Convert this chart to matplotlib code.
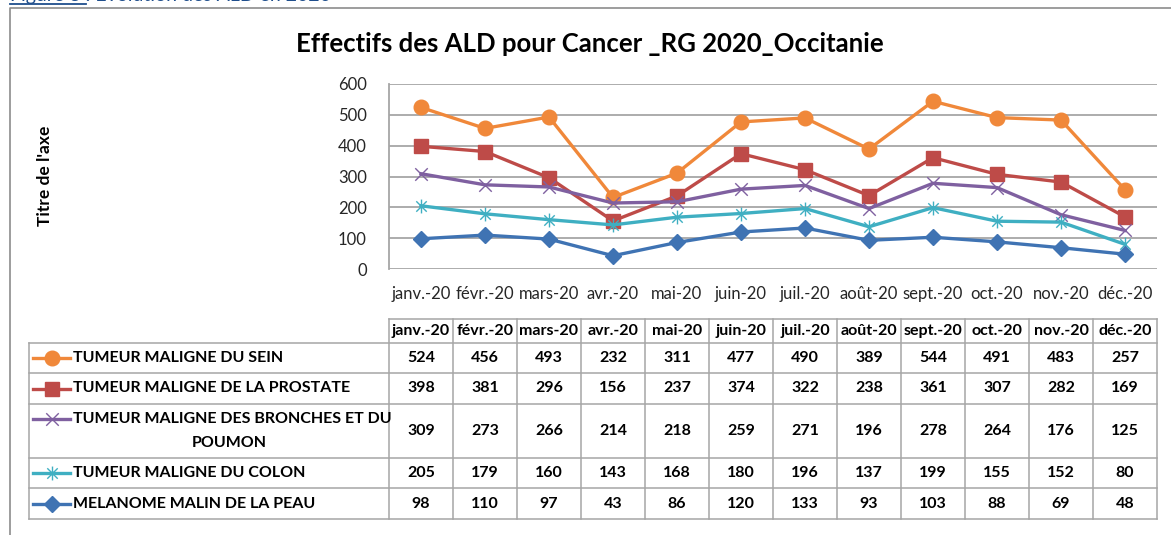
import matplotlib
matplotlib.use("Agg")
import matplotlib.pyplot as plt
from matplotlib.path import Path
from matplotlib.lines import Line2D

plt.rcParams['font.family'] = ['Lato', 'DejaVu Sans']

months = ["janv.-20", "févr.-20", "mars-20", "avr.-20", "mai-20", "juin-20",
          "juil.-20", "août-20", "sept.-20", "oct.-20", "nov.-20", "déc.-20"]
series_names = ["TUMEUR MALIGNE DU SEIN",
                "TUMEUR MALIGNE DE LA PROSTATE",
                "TUMEUR MALIGNE DES BRONCHES ET DU\nPOUMON",
                "TUMEUR MALIGNE DU COLON",
                "MELANOME MALIN DE LA PEAU"]
sein = [524, 456, 493, 232, 311, 477, 490, 389, 544, 491, 483, 257]
prostate = [398, 381, 296, 156, 237, 374, 322, 238, 361, 307, 282, 169]
bronches = [309, 273, 266, 214, 218, 259, 271, 196, 278, 264, 176, 125]
colon = [205, 179, 160, 143, 168, 180, 196, 137, 199, 155, 152, 80]
melanome = [98, 110, 97, 43, 86, 120, 133, 93, 103, 88, 69, 48]
yticks = [0, 100, 200, 300, 400, 500, 600]

title = "Effectifs des ALD pour Cancer _RG 2020_Occitanie"
ylabel = "Titre de l'axe"
caption = "Figure 8 : Evolution des ALD en 2020"

star = Path([(0, -1), (0, 1), (-0.75, -0.75), (0.75, 0.75), (-0.75, 0.75), (0.75, -0.75)],
            [Path.MOVETO, Path.LINETO, Path.MOVETO, Path.LINETO, Path.MOVETO, Path.LINETO])
xmark = Path([(-1, -1), (1, 1), (-1, 1), (1, -1)],
             [Path.MOVETO, Path.LINETO, Path.MOVETO, Path.LINETO])

styles = [
    dict(color="#F0883A", marker="o", ms=10.5, mfc="#F0883A", mec="#F0883A"),
    dict(color="#BE4B48", marker="s", ms=9.5, mfc="#BE4B48", mec="#BE4B48"),
    dict(color="#7F60A0", marker=xmark, ms=9, mfc="none", mec="#7F60A0", mew=1.0),
    dict(color="#3FAFC2", marker=star, ms=10, mfc="none", mec="#3FAFC2", mew=1.0),
    dict(color="#3F73B3", marker="D", ms=8, mfc="#3F73B3", mec="#3F73B3"),
]
data = [sein, prostate, bronches, colon, melanome]

W, H = 1171, 535
fig = plt.figure(figsize=(W / 100, H / 100), dpi=100)
fig.patch.set_facecolor("white")

def fx(px):
    return px / W

def fy(py):
    return 1 - py / H

# main chart axes (pixel bounds)
L, R, T, B = 389, 1157, 84, 269
ax = fig.add_axes([fx(L), fy(B), fx(R) - fx(L), fy(T) - fy(B)])
x = list(range(len(months)))
for vals, st in zip(data, styles):
    ax.plot(x, vals, lw=2.4, solid_joinstyle="round", zorder=3, **st)
ax.set_xlim(-0.5, len(months) - 0.5)
ax.set_ylim(0, 600)
ax.set_yticks(yticks)
ax.set_yticklabels([str(v) for v in yticks], fontsize=12, color="#262626")
ax.set_xticks(x)
ax.set_xticklabels(months, fontsize=12, color="#262626")
ax.tick_params(axis="both", length=0)
ax.tick_params(axis="y", pad=16)
ax.tick_params(axis="x", pad=12)
ax.grid(axis="y", color="#A6A6A6", lw=1.3)
ax.set_axisbelow(True)
for s in ["top", "right", "bottom"]:
    ax.spines[s].set_visible(False)
ax.spines["left"].set_color("#A6A6A6")
ax.spines["left"].set_linewidth(1.3)

# overlay in pixel coordinates
ov = fig.add_axes([0, 0, 1, 1], zorder=5)
ov.set_xlim(0, W)
ov.set_ylim(H, 0)
ov.axis("off")
ov.patch.set_alpha(0)

# frame
ov.plot([9.5, 9.5, W], [H, 7.5, 7.5], color="#8C8C8C", lw=1.2, solid_capstyle="butt")

# caption (clipped at top, as in the reference)
ov.text(10, 1.0, caption, fontsize=14, color="#1F4E8C", va="baseline", ha="left")
ov.plot([10, 86], [4.0, 4.0], color="#1F4E8C", lw=1.3)

# title
ov.text(590, 44, title, fontsize=18.5, fontweight="bold", ha="center", va="center", color="black")
# y label
ov.text(45, 176, ylabel, fontsize=12.5, fontweight="bold", rotation=90, ha="center", va="center")

# table
col_edges = [L + i * 64 for i in range(len(months) + 1)]
row_edges = [343, 373, 404, 458, 488, 519]
hdr_top = 319
grid_c = "#A6A6A6"
lw = 1.1
ov.plot([L, R], [hdr_top, hdr_top], color=grid_c, lw=lw)
for ce in col_edges:
    ov.plot([ce, ce], [hdr_top, row_edges[-1]], color=grid_c, lw=lw)
for re in row_edges:
    ov.plot([29, R], [re, re], color=grid_c, lw=lw)
ov.plot([29, 29], [row_edges[0], row_edges[-1]], color=grid_c, lw=lw)

for i, m in enumerate(months):
    cx = (col_edges[i] + col_edges[i + 1]) / 2
    ov.text(cx, (hdr_top + row_edges[0]) / 2, m, fontsize=11.5, fontweight="bold",
            ha="center", va="center")

for r, (name, vals, st) in enumerate(zip(series_names, data, styles)):
    cy = (row_edges[r] + row_edges[r + 1]) / 2
    for i, v in enumerate(vals):
        cx = (col_edges[i] + col_edges[i + 1]) / 2
        ov.text(cx, cy, str(v), fontsize=11.5, fontweight="bold", ha="center", va="center")
    ky = (row_edges[r] + 15) if "\n" in name else cy
    ov.add_line(Line2D([33, 51.5, 70], [ky, ky, ky], lw=2.4, markevery=[1], **st))
    if "\n" in name:
        l1, l2 = name.split("\n")
        ov.text(73, ky, l1, fontsize=11.5, fontweight="bold", ha="left", va="center")
        ov.text(229, ky + 24, l2, fontsize=11.5, fontweight="bold", ha="center", va="center")
    else:
        ov.text(73, cy, name, fontsize=11.5, fontweight="bold", ha="left", va="center")

fig.savefig("out.png", dpi=100, facecolor="white")
